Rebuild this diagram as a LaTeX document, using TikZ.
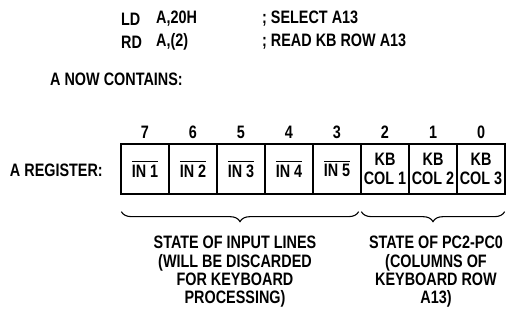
\documentclass[tikz,border=0pt]{standalone}
\usepackage{fontspec}
\setmainfont{Liberation Sans}[FakeStretch=0.8]
\usetikzlibrary{decorations.pathreplacing}
\newcommand\barred[1]{\vbox{\hrule height 1.2pt\kern 2.5pt\hbox{#1}}}
\begin{document}
\begin{tikzpicture}[x=1pt,y=-1pt,
  txt/.style={font=\bfseries\fontsize{18}{18.3}\selectfont, inner sep=0pt},
  cell/.style={draw, line width=1.3pt, minimum width=48pt, minimum height=50pt, inner sep=0pt, align=center,
    font=\bfseries\fontsize{18}{19.5}\selectfont},
  bitnum/.style={txt},
  brc/.style={decorate, decoration={brace, mirror, amplitude=10pt}, line width=1.1pt}]
\useasboundingbox (0,0) rectangle (509,326);
% code lines
\node[txt, anchor=west] (ld) at (121,19) {LD};
\node[txt, anchor=west] (ldop) at (156,19) {A,20H};
\node[txt, anchor=west] (ldc) at (262,19) {; SELECT A13};
\node[txt, anchor=west] (rd) at (121,42) {RD};
\node[txt, anchor=west] (rdop) at (156,42) {A,(2)};
\node[txt, anchor=west] (rdc) at (262,42) {; READ KB ROW A13};
\node[txt, anchor=west] (now) at (50,79) {A NOW CONTAINS:};
\node[txt, anchor=east] (areg) at (103,170) {A REGISTER:};
% register cells
\node[cell] (c7) at (145,169) {\barred{IN 1}};
\node[cell] (c6) at (193,169) {\barred{IN 2}};
\node[cell] (c5) at (241,169) {\barred{IN 3}};
\node[cell] (c4) at (289,169) {\barred{IN 4}};
\node[cell] (c3) at (337,169) {\barred{IN 5}};
\node[cell] (c2) at (385,169) {KB\\COL 1};
\node[cell] (c1) at (433,169) {KB\\COL 2};
\node[cell] (c0) at (481,169) {KB\\COL 3};
% bit numbers
\foreach \i in {0,...,7} {
  \node[bitnum] (n\i) at ([yshift=37pt]c\i.center) {\i};
}
% braces
\coordinate (bl1) at ([xshift=1pt,yshift=-17pt]c7.south west);
\coordinate (bl2) at ([xshift=-3pt,yshift=-17pt]c3.south east);
\coordinate (br1) at ([xshift=1pt,yshift=-17pt]c2.south west);
\coordinate (br2) at ([xshift=-1pt,yshift=-17pt]c0.south east);
\draw[brc] (bl1) -- (bl2);
\draw[brc] (br1) -- (br2);
% captions
\node[txt, align=center] (capl) at (235,272) {STATE OF INPUT LINES\\(WILL BE DISCARDED\\FOR KEYBOARD\\PROCESSING)};
\node[txt, align=center] (capr) at (436,272) {STATE OF PC2-PC0\\(COLUMNS OF\\KEYBOARD ROW\\A13)};
\end{tikzpicture}
\end{document}
